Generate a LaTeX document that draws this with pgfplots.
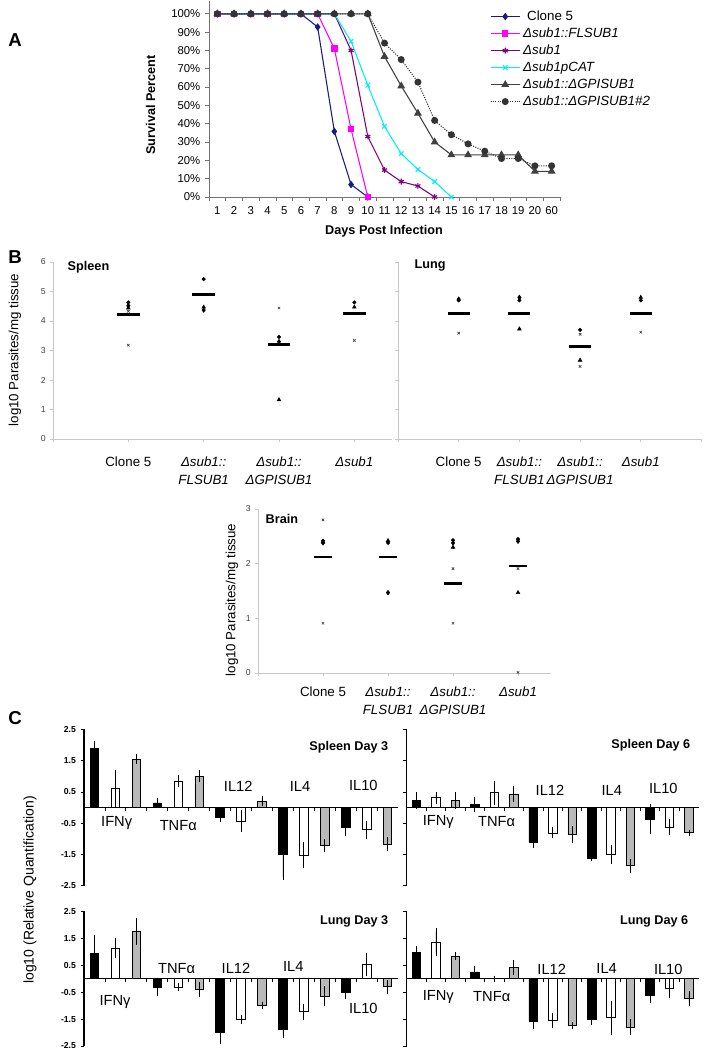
\documentclass[border=0pt]{standalone}
\usepackage{fontspec}
\setmainfont{Liberation Sans}
\usepackage{pgfplots}
\pgfplotsset{compat=1.18}
\definecolor{cNavy}{HTML}{1A1A80}
\definecolor{cMag}{HTML}{FF00FF}
\definecolor{cPurp}{HTML}{800080}
\definecolor{cCyan}{HTML}{00EEF5}
\definecolor{cDark}{HTML}{404040}
\definecolor{cAxB}{HTML}{C8C8C8}

\pgfplotsset{
  scat/.style={
    scale only axis, anchor=south west, clip=false,
    axis x line*=bottom, axis y line*=left,
    axis line style={cAxB, line width=0.6pt},
    tick style={cAxB, line width=0.5pt}, tick align=outside, major tick length=2pt,
    yticklabel style={font=\fontsize{6.5}{7}\selectfont, color=black!75},
    xticklabel style={font=\fontsize{10}{13.5}\selectfont, align=center, anchor=north},
    /pgf/number format/assume math mode=true,
  },
  dia/.style={only marks, mark=diamond*, mark size=1.7pt, black},
  dot/.style={only marks, mark=*, mark size=1.3pt, black},
  tri/.style={only marks, mark=triangle*, mark size=1.6pt, black},
  crs/.style={only marks, mark=x, mark size=1.3pt, black!75, mark options={line width=0.5pt}},
  med/.style={only marks, mark=-, mark size=#1, black, mark options={line width=2pt}},
  cyto/.style={
    scale only axis, anchor=south west, clip=false,
    xmin=0.5, xmax=15.5, ymin=-2.5, ymax=2.5,
    axis x line=middle, axis y line=left,
    axis line style={black, line width=0.9pt, -},
    xtick={1.5,2.5,...,14.5}, xticklabels={},
    ytick={-2.5,-1.5,...,2.5},
    tick align=outside, major tick length=2.5pt,
    tick style={black, line width=0.6pt},
    yticklabel style={font=\fontsize{6.5}{7}\selectfont\bfseries},
    /pgf/number format/assume math mode=true,
    /pgf/number format/fixed, /pgf/number format/precision=1, /pgf/number format/fixed zerofill,
  },
  bar/.style={ybar, bar width=6.4pt, bar shift=0pt, fill=#1, draw=black, line width=0.5pt,
    error bars/y dir=both, error bars/y explicit,
    error bars/error bar style={line width=0.5pt, black},
    error bars/error mark options={mark size=2.2pt, line width=0.5pt, black}},
}

\begin{document}
\begin{tikzpicture}
\path[use as bounding box] (0,0) rectangle (528.75pt,787.5pt);

% ---------------- A: survival
\begin{axis}[
  at={(156.75pt,639.75pt)}, anchor=south west, scale only axis,
  width=263.25pt, height=147pt, clip=false,
  xmin=0.5, xmax=21.5, ymin=0, ymax=107,
  axis x line*=bottom, axis y line*=left,
  axis line style={black!55, line width=0.6pt},
  tick style={black!55, line width=0.5pt}, tick align=outside, major tick length=3pt,
  xtick={0.5,1.5,...,21.5}, xticklabels={},
  extra x ticks={1,2,...,21},
  extra x tick labels={1,2,3,4,5,6,7,8,9,10,11,12,13,14,15,16,17,18,19,20,60},
  extra x tick style={major tick length=0pt},
  xticklabel style={yshift=-4pt},
  ytick={0,10,...,100},
  yticklabels={0\%,10\%,20\%,30\%,40\%,50\%,60\%,70\%,80\%,90\%,100\%},
  ticklabel style={font=\fontsize{8.5}{9}\selectfont},
  /pgf/number format/assume math mode=true,
  legend style={at={(0.80,0.965)}, anchor=north west, draw=none, fill=none,
    font=\fontsize{10}{12.75}\selectfont, inner sep=0pt, row sep=0pt},
  legend cell align=left,
  legend image code/.code={\draw[#1, mark repeat=2, mark phase=2] plot coordinates {(0pt,0pt) (11pt,0pt) (22pt,0pt)};},
]
\addplot[cNavy, line width=0.8pt, mark=diamond*, mark size=2.2pt] coordinates {
 (1,100)(2,100)(3,100)(4,100)(5,100)(6,100)(7,92.8)(8,35.8)(9,6.8)(10,0)};
\addlegendentry{\hspace{3pt}Clone 5}
\addplot[cMag, line width=0.8pt, mark=square*, mark size=2pt] coordinates {
 (1,100)(2,100)(3,100)(4,100)(5,100)(6,100)(7,100)(8,81)(9,37)(10,0)};
\addlegendentry{\textit{Δsub1::FLSUB1}}
\addplot[cPurp, line width=0.8pt, mark=asterisk, mark size=2.2pt] coordinates {
 (1,100)(2,100)(3,100)(4,100)(5,100)(6,100)(7,100)(8,100)(9,80)(10,33)(11,14.7)(12,8.4)(13,6)(14,0)};
\addlegendentry{\textit{Δsub1}}
\addplot[cCyan, line width=0.8pt, mark=x, mark size=2.4pt] coordinates {
 (1,100)(2,100)(3,100)(4,100)(5,100)(6,100)(7,100)(8,100)(9,85)(10,61)(11,38.5)(12,23.7)(13,15)(14,8.4)(15,0)};
\addlegendentry{\textit{Δsub1pCAT}}
\addplot[cDark, line width=0.8pt, mark=triangle*, mark size=2.6pt] coordinates {
 (1,100)(2,100)(3,100)(4,100)(5,100)(6,100)(7,100)(8,100)(9,100)(10,100)(11,76.7)(12,60.6)(13,45.7)(14,30)(15,23)(16,23)(17,23)(18,23)(19,23)(20,14)(21,14)};
\addlegendentry{\textit{Δsub1::ΔGPISUB1}}
\addplot[black!80, line width=0.8pt, densely dotted, mark=*, mark size=2.2pt, mark options={solid}] coordinates {
 (1,100)(2,100)(3,100)(4,100)(5,100)(6,100)(7,100)(8,100)(9,100)(10,100)(11,84)(12,75)(13,62.7)(14,41.8)(15,34)(16,29)(17,25)(18,21)(19,21)(20,17)(21,17)};
\addlegendentry{\textit{Δsub1::ΔGPISUB1\#2}}
\end{axis}
\node[font=\fontsize{14}{16}\selectfont\bfseries] at (11.25pt,757.5pt) {A};
\node[rotate=90, font=\fontsize{9.5}{11}\selectfont\bfseries] at (113pt,708.75pt) {Survival Percent};
\node[font=\fontsize{9.5}{11}\selectfont\bfseries] at (288pt,614.25pt) {Days Post Infection};

% ---------------- B: parasite burden
\begin{axis}[scat, at={(39.75pt,458.25pt)}, width=254.25pt, height=132.75pt,
  xmin=0, xmax=4.5, ymin=0, ymax=6, ytick={0,1,...,6},
  xtick={0,1,2,3,4}, xticklabels={,Clone 5,{\textit{Δsub1::}\\\textit{FLSUB1}},{\textit{Δsub1::}\\\textit{ΔGPISUB1}},\textit{Δsub1}},
  xticklabel style={yshift=-8pt}]
\addplot[dia] coordinates {(1,4.52)(2,4.37)(3,3.30)};
\addplot[dot] coordinates {(1,4.63)(2,5.42)(3,3.46)(4,4.63)};
\addplot[tri] coordinates {(1,4.44)(2,4.47)(3,1.33)(4,4.47)};
\addplot[crs] coordinates {(1,4.33)(1,3.18)(3,4.44)(4,3.34)};
\addplot[med=8.5pt] coordinates {(1,4.22)(2,4.89)(3,3.20)(4,4.25)};
\end{axis}
\begin{axis}[scat, at={(298.5pt,458.25pt)}, width=227.6pt, height=132.75pt,
  xmin=0, xmax=5, ymin=0, ymax=6, ytick={0,1,...,6}, yticklabels={},
  xtick={0,1,2,3,4,5}, xticklabels={,Clone 5,{\textit{Δsub1::}\\\textit{FLSUB1}},{\textit{Δsub1::}\\\textit{ΔGPISUB1}},\textit{Δsub1},},
  xticklabel style={yshift=-8pt}]
\addplot[dia] coordinates {(1,4.74)(2,4.80)};
\addplot[dot] coordinates {(1,4.70)(2,4.70)(3,3.70)(4,4.70)};
\addplot[tri] coordinates {(2,3.73)(3,2.67)(4,4.80)};
\addplot[crs] coordinates {(1,3.59)(3,3.55)(3,2.46)(4,3.62)};
\addplot[med=8.3pt] coordinates {(1,4.26)(2,4.26)(3,3.13)(4,4.26)};
\end{axis}
\begin{axis}[scat, at={(193.5pt,282.75pt)}, width=219.4pt, height=123pt,
  xmin=0, xmax=4.5, ymin=0, ymax=3, ytick={0,1,2,3},
  xtick={0,1,2,3,4}, xticklabels={,Clone 5,{\textit{Δsub1::}\\\textit{FLSUB1}},{\textit{Δsub1::}\\\textit{ΔGPISUB1}},\textit{Δsub1}},
  xticklabel style={yshift=-5pt}]
\addplot[dia] coordinates {(1,2.38)(2,1.47)(3,2.38)(4,2.41)};
\addplot[dot] coordinates {(1,2.42)(2,2.38)(3,2.43)(4,2.45)};
\addplot[tri] coordinates {(1,2.40)(2,2.42)(3,2.30)(4,1.47)};
\addplot[crs] coordinates {(1,2.80)(1,0.91)(3,1.91)(3,0.91)(4,1.91)(4,0.01)};
\addplot[med=6.8pt] coordinates {(1,2.12)(2,2.12)(3,1.64)(4,1.96)};
\end{axis}
\node[font=\fontsize{14}{16}\selectfont\bfseries] at (11.25pt,594.75pt) {B};
\node[anchor=west, font=\fontsize{9.5}{11}\selectfont\bfseries] at (47.25pt,587.25pt) {Spleen};
\node[anchor=west, font=\fontsize{9.5}{11}\selectfont\bfseries] at (307.5pt,588.75pt) {Lung};
\node[anchor=west, font=\fontsize{9.5}{11}\selectfont\bfseries] at (195.75pt,398.25pt) {Brain};
\node[rotate=90, font=\fontsize{10}{12}\selectfont] at (11.25pt,525pt) {log10 Parasites/mg tissue};
\node[rotate=90, font=\fontsize{10}{12}\selectfont] at (174pt,337.5pt) {log10 Parasites/mg tissue};

% ---------------- C: cytokines
% Spleen Day 3
\begin{axis}[cyto, at={(63pt,123.2pt)}, width=235.5pt, height=117.2pt]
\addplot[bar=black] coordinates {(1,1.90)+-(0,0.13) (4,0.15)+-(0,0.05) (7,-0.30)+-(0,0.08) (10,-1.50)+-(0,0.73) (13,-0.62)+-(0,0.20)};
\addplot[bar=white] coordinates {(2,0.61)+-(0,0.50) (5,0.84)+-(0,0.10) (8,-0.43)+-(0,0.25) (11,-1.52)+-(0,0.31) (14,-0.71)+-(0,0.20)};
\addplot[bar=gray!55] coordinates {(3,1.55)+-(0,0.07) (6,1.01)+-(0,0.11) (9,0.20)+-(0,0.07) (12,-1.22)+-(0,0.12) (15,-1.16)+-(0,0.12)};
\end{axis}
% Spleen Day 6
\begin{axis}[cyto, at={(305pt,123.2pt)}, width=219pt, height=117.2pt, yticklabels={}]
\addplot[bar=black] coordinates {(1,0.22)+-(0,0.17) (4,0.09)+-(0,0.14) (7,-1.11)+-(0,0.10) (10,-1.61)+-(0,0.02) (13,-0.37)+-(0,0.38)};
\addplot[bar=white] coordinates {(2,0.32)+-(0,0.10) (5,0.48)+-(0,0.29) (8,-0.81)+-(0,0.08) (11,-1.51)+-(0,0.21) (14,-0.62)+-(0,0.17)};
\addplot[bar=gray!55] coordinates {(3,0.22)+-(0,0.17) (6,0.44)+-(0,0.17) (9,-0.87)+-(0,0.18) (12,-1.86)+-(0,0.13) (15,-0.80)+-(0,0)};
\end{axis}
% Lung Day 3
\begin{axis}[cyto, at={(63pt,3pt)}, width=235.5pt, height=101pt]
\addplot[bar=black] coordinates {(1,0.93)+-(0,0.60) (4,-0.31)+-(0,0.21) (7,-2.00)+-(0,0.33) (10,-1.88)+-(0,0.21) (13,-0.52)+-(0,0.12)};
\addplot[bar=white] coordinates {(2,1.13)+-(0,0.27) (5,-0.31)+-(0,0.04) (8,-1.51)+-(0,0.06) (11,-1.23)+-(0,0.18) (14,0.53)+-(0,0.31)};
\addplot[bar=gray!55] coordinates {(3,1.75)+-(0,0.39) (6,-0.40)+-(0,0.18) (9,-0.99)+-(0,0.03) (12,-0.64)+-(0,0.25) (15,-0.30)+-(0,0.15)};
\end{axis}
% Lung Day 6
\begin{axis}[cyto, at={(305pt,3pt)}, width=219pt, height=101pt, yticklabels={}]
\addplot[bar=black] coordinates {(1,0.99)+-(0,0.12) (4,0.25)+-(0,0.12) (7,-1.57)+-(0,0.20) (10,-1.51)+-(0,0.10) (13,-0.62)+-(0,0.19)};
\addplot[bar=white] coordinates {(2,1.36)+-(0,0.40) (5,0)+-(0,0) (8,-1.55)+-(0,0.18) (11,-1.45)+-(0,0.53) (14,-0.35)+-(0,0.27)};
\addplot[bar=gray!55] coordinates {(3,0.84)+-(0,0.04) (6,0.43)+-(0,0.17) (9,-1.73)+-(0,0.02) (12,-1.80)+-(0,0.20) (15,-0.74)+-(0,0.16)};
\end{axis}
\node[font=\fontsize{14}{16}\selectfont\bfseries] at (11.25pt,249pt) {C};
\node[rotate=90, font=\fontsize{10.5}{12}\selectfont] at (22.5pt,120pt) {log10 (Relative Quantification)};
\begin{scope}[font=\fontsize{9.5}{11}\selectfont\bfseries]
\node[anchor=east] at (294.75pt,227.25pt) {Spleen Day 3};
\node[anchor=east] at (521.25pt,228.75pt) {Spleen Day 6};
\node[anchor=east] at (294.75pt,96.2pt) {Lung Day 3};
\node[anchor=east] at (519.75pt,96.2pt) {Lung Day 6};
\end{scope}
\begin{scope}[font=\fontsize{11}{12}\selectfont]
\node at (87.5pt,170pt) {IFNγ};
\node at (133.7pt,168pt) {TNFα};
\node at (178.7pt,198pt) {IL12};
\node at (225pt,198pt) {IL4};
\node at (272.5pt,198.75pt) {IL10};
\node at (328.7pt,170.8pt) {IFNγ};
\node at (372.5pt,171.2pt) {TNFα};
\node at (412.5pt,195pt) {IL12};
\node at (458.8pt,195pt) {IL4};
\node at (497.5pt,196.3pt) {IL10};
\node at (86.25pt,36.2pt) {IFNγ};
\node at (132.5pt,61.3pt) {TNFα};
\node at (177pt,61.3pt) {IL12};
\node at (220pt,62.5pt) {IL4};
\node at (272.5pt,31.3pt) {IL10};
\node at (328.7pt,40pt) {IFNγ};
\node at (368.8pt,40pt) {TNFα};
\node at (413.8pt,60.5pt) {IL12};
\node at (455pt,61.3pt) {IL4};
\node at (501.2pt,60.5pt) {IL10};
\end{scope}
\end{tikzpicture}
\end{document}
